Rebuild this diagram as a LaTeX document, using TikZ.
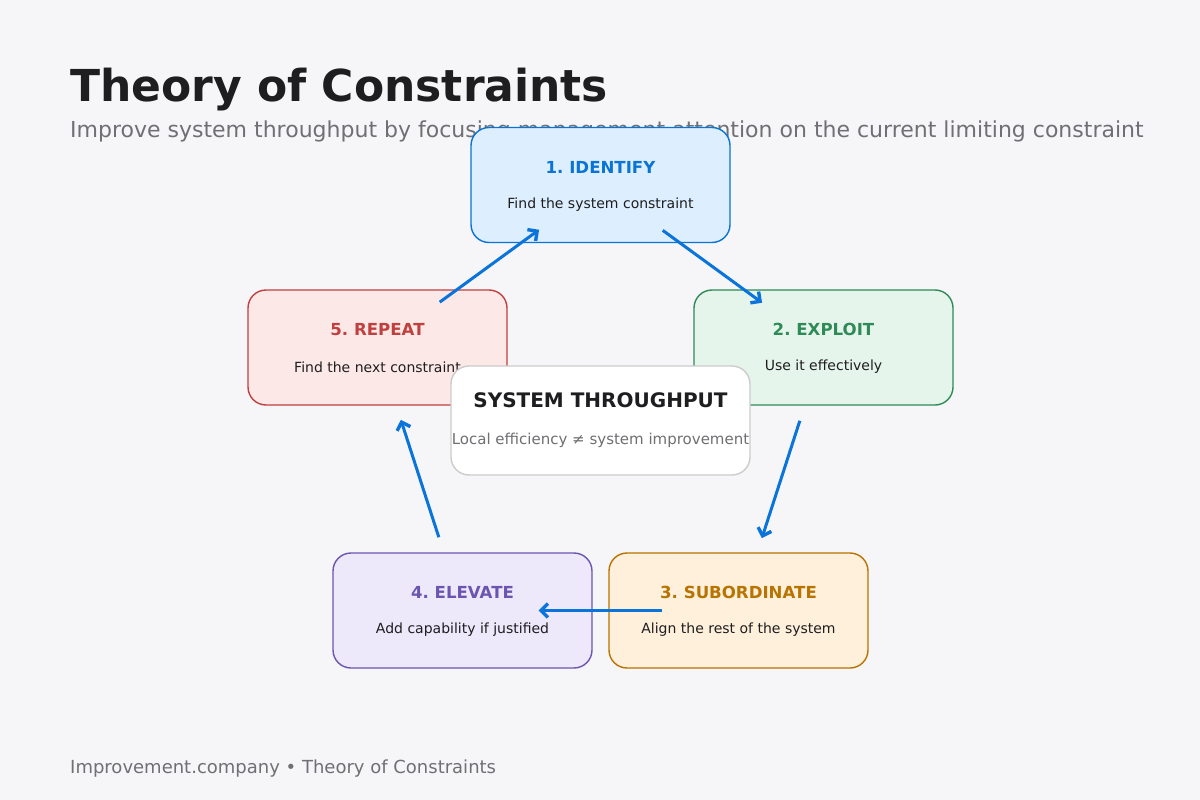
\documentclass[tikz,border=0pt]{standalone}
\usepackage{fontspec}
\setmainfont{DejaVu Sans}
\frenchspacing
\usetikzlibrary{arrows.meta}
\definecolor{bgpage}{HTML}{F6F6F8}
\definecolor{inkdark}{HTML}{1E1E20}
\definecolor{inkgray}{HTML}{707074}
\definecolor{flowblue}{HTML}{0A74DA}
\definecolor{idline}{HTML}{0A74D4}\definecolor{idfill}{HTML}{DDEEFE}
\definecolor{exline}{HTML}{2E8B57}\definecolor{exfill}{HTML}{E6F5EC}
\definecolor{suline}{HTML}{B87300}\definecolor{sufill}{HTML}{FFF0DB}
\definecolor{elline}{HTML}{6B55B0}\definecolor{elfill}{HTML}{EDE8FA}
\definecolor{reline}{HTML}{C0403F}\definecolor{refill}{HTML}{FDE8E8}
\tikzset{
  stepcard/.style={draw=#1line,fill=#1fill,line width=1.4pt,rounded corners=18pt,
    minimum width=259pt,minimum height=115pt,inner sep=0pt},
  steptitle/.style={text=#1line,font=\fontsize{16.6}{20}\selectfont\bfseries},
  stepbody/.style={text=inkdark,font=\fontsize{14}{17}\selectfont},
  flow/.style={draw=flowblue,line width=3pt,-{Straight Barb[length=7pt,width=14pt,line width=3.4pt]},
    shorten <=77pt,shorten >=76pt},
}
\begin{document}
\begin{tikzpicture}[x=1pt,y=-1pt]
  \fill[bgpage] (0,0) rectangle (1200,800);
  \useasboundingbox (0,0) rectangle (1200,800);
  % heading
  \node[anchor=base west,inner sep=0pt,text=inkdark,font=\fontsize{44}{50}\selectfont\bfseries] (head) at (70,101) {Theory of Constraints};
  \node[anchor=base west,inner sep=0pt,text=inkgray,font=\fontsize{22}{26}\selectfont] (sub) at (70,137) {Improve system throughput by focusing management attention on the current limiting constraint};
  % the five steps
  \node[stepcard=id] (n1) at (600.5,185) {};
  \node[stepcard=ex] (n2) at (823.5,347.5) {};
  \node[stepcard=su] (n3) at (738.5,610.5) {};
  \node[stepcard=el] (n4) at (462.5,610.5) {};
  \node[stepcard=re] (n5) at (377.5,347.5) {};
  \node[steptitle=id] at ([yshift=18pt]n1.center) {1. IDENTIFY};
  \node[stepbody] at ([yshift=-19.5pt]n1.center) {Find the system constraint};
  \node[steptitle=ex] at ([yshift=18pt]n2.center) {2. EXPLOIT};
  \node[stepbody] at ([yshift=-19.5pt]n2.center) {Use it effectively};
  \node[steptitle=su] at ([yshift=18pt]n3.center) {3. SUBORDINATE};
  \node[stepbody] at ([yshift=-19.5pt]n3.center) {Align the rest of the system};
  \node[steptitle=el] at ([yshift=18pt]n4.center) {4. ELEVATE};
  \node[stepbody] at ([yshift=-19.5pt]n4.center) {Add capability if justified};
  \node[steptitle=re] at ([yshift=18pt]n5.center) {5. REPEAT};
  \node[stepbody] at ([yshift=-19.5pt]n5.center) {Find the next constraint};
  % cycle
  \draw[flow] (n5.center) -- (n1.center);
  \draw[flow] (n1.center) -- (n2.center);
  \draw[flow] (n2.center) -- (n3.center);
  \draw[flow] (n3.center) -- (n4.center);
  \draw[flow] (n4.center) -- (n5.center);
  % hub
  \node[draw=black!20,fill=white,line width=1.4pt,rounded corners=18pt,
    minimum width=299pt,minimum height=109pt] (hub) at (600.5,420.5) {};
  \node[text=inkdark,font=\fontsize{20}{24}\selectfont\bfseries] at ([yshift=20pt]hub.center) {SYSTEM THROUGHPUT};
  \node[text=inkgray,font=\fontsize{15}{18}\selectfont] at ([yshift=-20pt]hub.center) {Local efficiency ≠ system improvement};
  % footer
  \node[anchor=base west,inner sep=0pt,text=inkgray,font=\fontsize{18}{22}\selectfont] (foot) at (70,773) {Improvement.company • Theory of Constraints};
\end{tikzpicture}
\end{document}
